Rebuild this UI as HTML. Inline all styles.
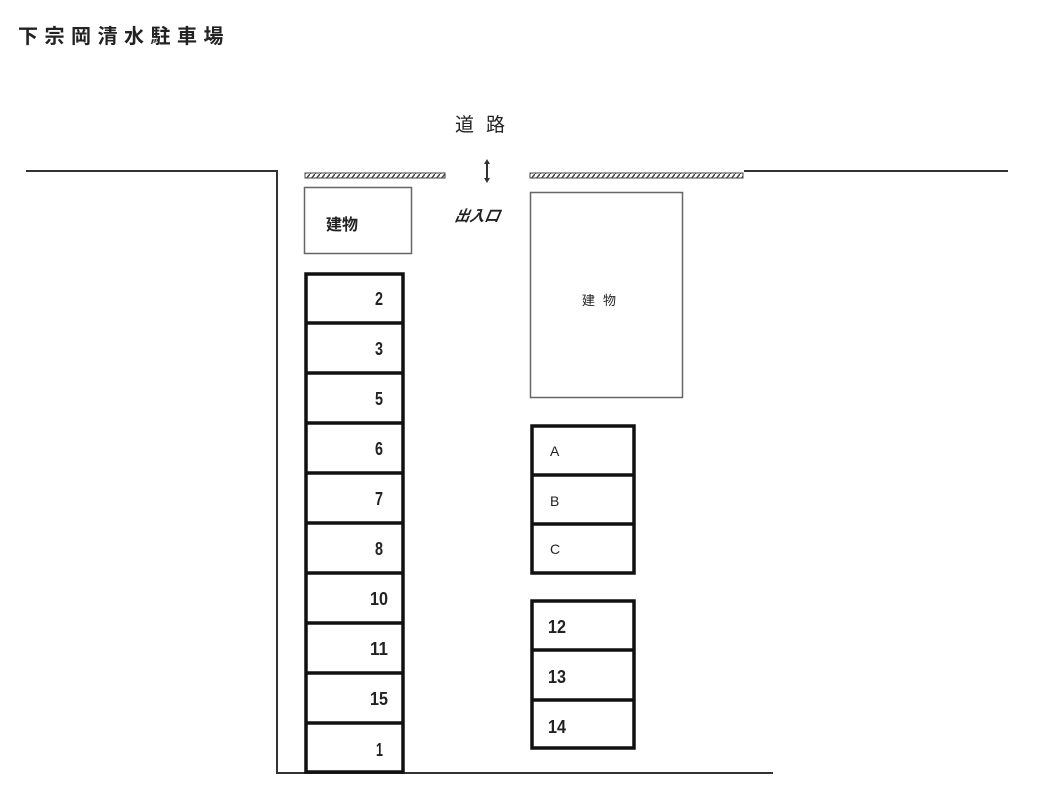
<!DOCTYPE html>
<html><head><meta charset="utf-8"><style>
html,body{margin:0;padding:0;background:#fff;width:1040px;height:806px;overflow:hidden}
svg{display:block}
.n{font-family:"Liberation Sans",sans-serif;font-size:18px;font-weight:bold;fill:#222}
.l{font-family:"Liberation Sans",sans-serif;font-size:14px;fill:#222}
.j{font-family:"Liberation Sans","Noto Sans CJK JP",sans-serif;fill:#222}
</style></head><body>
<svg width="1040" height="806" viewBox="0 0 1040 806">
<defs><pattern id="h" width="5" height="6" patternUnits="userSpaceOnUse"><rect width="5" height="6" fill="#fff"/><path d="M0 6 L5 0" stroke="#444" stroke-width="1.5"/></pattern></defs>
<text x="18" y="43" class="j" font-size="20" font-weight="bold" letter-spacing="6.5" fill="#333">下宗岡清水駐車場</text>
<text x="455" y="131" class="j" font-size="19" letter-spacing="12" fill="#444">道路</text>
<g stroke="#333" stroke-width="2" fill="none">
<polyline points="26,171 277,171 277,773 773,773"/>
<line x1="744" y1="171" x2="1008" y2="171"/>
</g>
<rect x="305" y="173" width="140" height="5" fill="url(#h)" stroke="#444" stroke-width="1"/>
<rect x="530" y="173" width="213" height="5" fill="url(#h)" stroke="#444" stroke-width="1"/>
<g stroke="#333" stroke-width="2" fill="#333"><line x1="487" y1="162" x2="487" y2="180"/></g>
<path d="M484 164 L487 159 L490 164 Z M484 178 L487 183 L490 178 Z" fill="#333"/>
<text x="455" y="221" class="j" font-size="15" font-weight="bold" font-style="italic" transform="skewX(-10) translate(38,0)">出入口</text>
<rect x="304.5" y="187.5" width="107" height="66" fill="none" stroke="#666" stroke-width="1.5"/>
<text x="326" y="230" class="j" font-size="16" font-weight="bold">建物</text>
<rect x="530.5" y="192.5" width="152" height="205" fill="none" stroke="#666" stroke-width="1.5"/>
<text x="582" y="305" class="j" font-size="13" letter-spacing="8" fill="#444">建物</text>
<g stroke="#111" stroke-width="3.5" fill="none">
<rect x="306" y="274" width="97" height="498"/>
<line x1="306" y1="323" x2="403" y2="323"/><line x1="306" y1="373" x2="403" y2="373"/>
<line x1="306" y1="423" x2="403" y2="423"/><line x1="306" y1="473" x2="403" y2="473"/>
<line x1="306" y1="523" x2="403" y2="523"/><line x1="306" y1="573" x2="403" y2="573"/>
<line x1="306" y1="623" x2="403" y2="623"/><line x1="306" y1="673" x2="403" y2="673"/>
<line x1="306" y1="723" x2="403" y2="723"/>
<rect x="532" y="426" width="102" height="147"/>
<line x1="532" y1="475" x2="634" y2="475"/><line x1="532" y1="524" x2="634" y2="524"/>
<rect x="532" y="601" width="102" height="147"/>
<line x1="532" y1="650" x2="634" y2="650"/><line x1="532" y1="700" x2="634" y2="700"/>
</g>
<g class="n" text-anchor="end">
<text x="383" y="305" textLength="8" lengthAdjust="spacingAndGlyphs">2</text>
<text x="383" y="355" textLength="8" lengthAdjust="spacingAndGlyphs">3</text>
<text x="383" y="405" textLength="8" lengthAdjust="spacingAndGlyphs">5</text>
<text x="383" y="455" textLength="8" lengthAdjust="spacingAndGlyphs">6</text>
<text x="383" y="505" textLength="8" lengthAdjust="spacingAndGlyphs">7</text>
<text x="383" y="555" textLength="8" lengthAdjust="spacingAndGlyphs">8</text>
<text x="388" y="605" textLength="18" lengthAdjust="spacingAndGlyphs">10</text>
<text x="388" y="655" textLength="18" lengthAdjust="spacingAndGlyphs">11</text>
<text x="388" y="705" textLength="18" lengthAdjust="spacingAndGlyphs">15</text>
<text x="383" y="756" textLength="7" lengthAdjust="spacingAndGlyphs">1</text>
</g>
<g class="l"><text x="550" y="456">A</text><text x="550" y="506">B</text><text x="550" y="554">C</text></g>
<g class="n">
<text x="548" y="633" textLength="18" lengthAdjust="spacingAndGlyphs">12</text>
<text x="548" y="683" textLength="18" lengthAdjust="spacingAndGlyphs">13</text>
<text x="548" y="733" textLength="18" lengthAdjust="spacingAndGlyphs">14</text>
</g>
</svg>
</body></html>
